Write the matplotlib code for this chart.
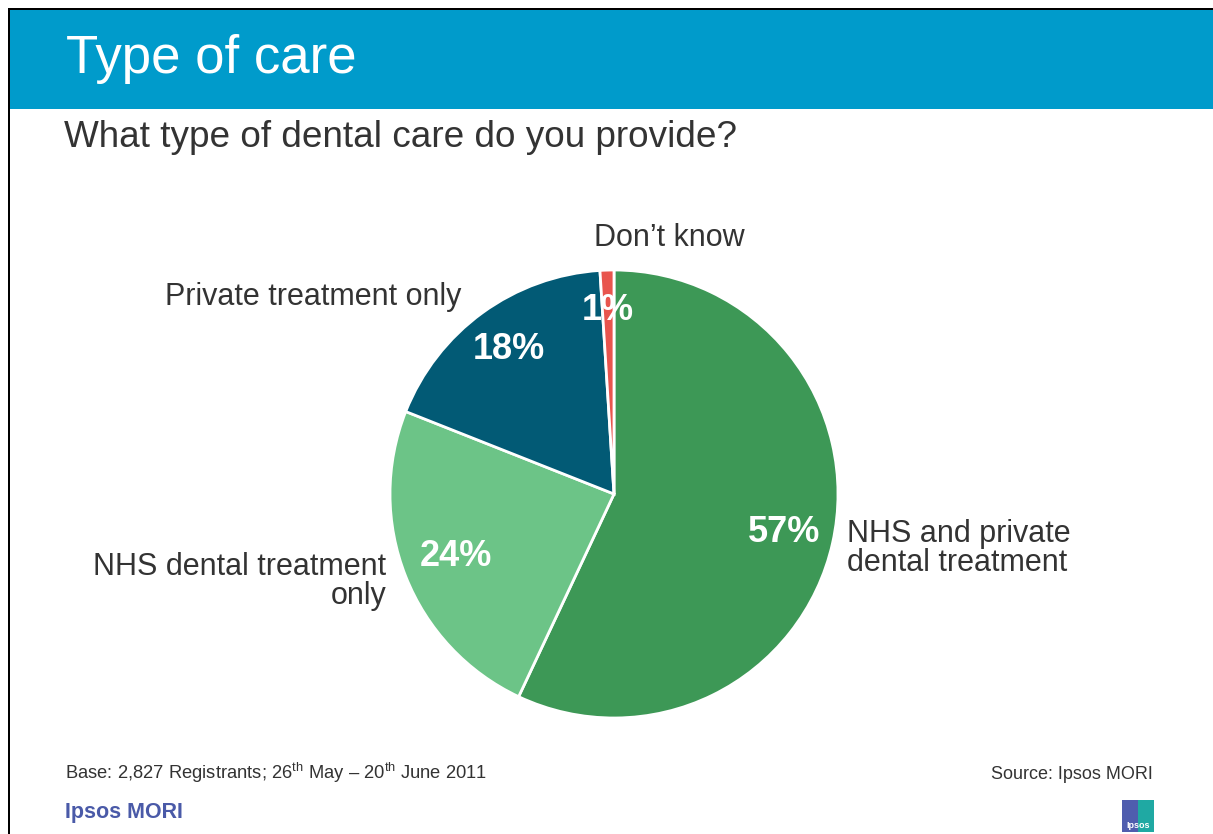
import matplotlib
matplotlib.use("Agg")
import matplotlib.pyplot as plt
from matplotlib import font_manager
from matplotlib.patches import Rectangle
import numpy as np

# Survey answers, clockwise from 12 o'clock
categories = ["NHS and private\ndental treatment", "NHS dental treatment\nonly",
              "Private treatment only", "Don\u2019t know"]
shares = [57, 24, 18, 1]
colors = ["#3D9856", "#6CC487", "#025A75", "#E8554E"]

title = "Type of care"
question = "What type of dental care do you provide?"

W, H = 1213, 834
DPI = 100

installed = {f.name for f in font_manager.fontManager.ttflist}
sans = "Liberation Sans" if "Liberation Sans" in installed else "DejaVu Sans"

plt.rcParams["font.family"] = [sans, "DejaVu Sans"]
plt.rcParams["mathtext.fontset"] = "custom"
plt.rcParams["mathtext.rm"] = sans
plt.rcParams["mathtext.it"] = sans
plt.rcParams["mathtext.bf"] = sans + ":bold"

TEXT = "#333333"

fig = plt.figure(figsize=(W / DPI, H / DPI), dpi=DPI)
fig.patch.set_facecolor("white")


def fx(px):
    return px / W


def fy(py):
    return 1 - py / H


# Header band and page frame
fig.add_artist(Rectangle((fx(10), fy(109)), 1 - fx(10), (109 - 10) / H,
                         transform=fig.transFigure, facecolor="#009BCB",
                         edgecolor="none", zorder=0))
fig.add_artist(Rectangle((fx(8), fy(10)), 1 - fx(8), 2 / H,
                         transform=fig.transFigure, facecolor="black",
                         edgecolor="none", zorder=1))
fig.add_artist(Rectangle((fx(8), 0), 2 / W, fy(8),
                         transform=fig.transFigure, facecolor="black",
                         edgecolor="none", zorder=1))

fig.text(fx(66), fy(73), title, color="white", fontsize=38,
         va="baseline", ha="left")
fig.text(fx(64), fy(147), question, color=TEXT, fontsize=26.6,
         va="baseline", ha="left")

# Pie chart
cx, cy, r = 614, 494, 224
ax = fig.add_axes([fx(cx - r), fy(cy + r), 2 * r / W, 2 * r / H])
wedges, _ = ax.pie(shares, colors=colors, startangle=90, counterclock=False,
                   radius=1, wedgeprops=dict(edgecolor="white", linewidth=2))
ax.set_xlim(-1, 1)
ax.set_ylim(-1, 1)
ax.set_aspect("equal")
ax.axis("off")

label_dist = [0.78, 0.76, 0.80, 0.82]
for w, v, d in zip(wedges, shares, label_dist):
    mid = np.deg2rad((w.theta1 + w.theta2) / 2)
    ax.text(d * np.cos(mid), d * np.sin(mid), f"{v}%", color="white",
            fontsize=26, fontweight="bold", ha="center", va="center")

# Category labels around the pie
fig.text(fx(847), fy(571), categories[0], color=TEXT, fontsize=22,
         ha="left", va="baseline", linespacing=0.95)
fig.text(fx(386), fy(604), categories[1], color=TEXT, fontsize=22,
         ha="right", va="baseline", multialignment="right", linespacing=0.95)
fig.text(fx(461), fy(305), categories[2], color=TEXT, fontsize=22,
         ha="right", va="baseline")
fig.text(fx(594), fy(246), categories[3], color=TEXT, fontsize=22,
         ha="left", va="baseline")

# Footer
fig.text(fx(65), fy(779),
         "Base: 2,827 Registrants; 26$^{\\mathrm{th}}$ May \u2013 "
         "20$^{\\mathrm{th}}$ June 2011",
         color=TEXT, fontsize=13.2, ha="left", va="baseline")
fig.text(fx(1153), fy(779), "Source: Ipsos MORI", color=TEXT, fontsize=13,
         ha="right", va="baseline")
fig.text(fx(65), fy(818), "Ipsos MORI", color="#4A5AA8", fontsize=15.5,
         fontweight="bold", ha="left", va="baseline")

# Small Ipsos badge
fig.add_artist(Rectangle((fx(1122), fy(832)), 16 / W, 32 / H,
                         transform=fig.transFigure, facecolor="#4F5DAE",
                         edgecolor="none"))
fig.add_artist(Rectangle((fx(1138), fy(832)), 16 / W, 32 / H,
                         transform=fig.transFigure, facecolor="#1FA9A3",
                         edgecolor="none"))
fig.text(fx(1138), fy(828), "Ipsos", color="white", fontsize=6.5,
         fontweight="bold", ha="center", va="baseline")

fig.savefig("out.png", dpi=DPI, facecolor="white")
